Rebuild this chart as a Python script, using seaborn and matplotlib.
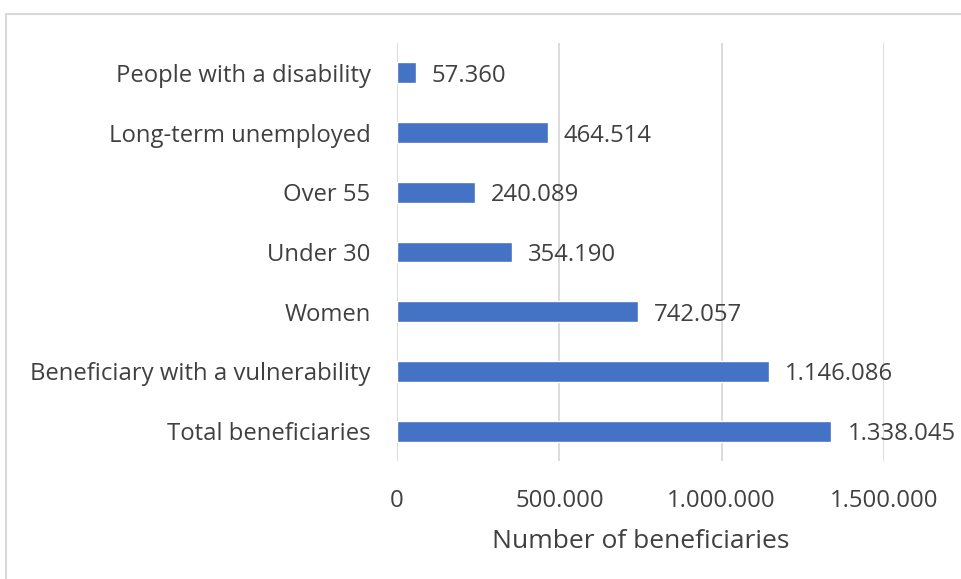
import matplotlib
matplotlib.use("Agg")
import matplotlib.pyplot as plt
from matplotlib.patches import Rectangle
from matplotlib.ticker import FuncFormatter
import seaborn as sns
import pandas as pd

categories = [
    "People with a disability",
    "Long-term unemployed",
    "Over 55",
    "Under 30",
    "Women",
    "Beneficiary with a vulnerability",
    "Total beneficiaries",
]
values = [57360, 464514, 240089, 354190, 742057, 1146086, 1338045]
x_ticks = [0, 500000, 1000000, 1500000]

df = pd.DataFrame({"group": categories, "beneficiaries": values})

sns.set_theme(style="white")
plt.rcParams["font.family"] = ["Open Sans", "DejaVu Sans"]

text_color = "#404040"
bar_color = "#4472C4"
grid_color = "#D9D9D9"
fs = 17.2


def dotted(v):
    return f"{int(v):,}".replace(",", ".")


fig = plt.figure(figsize=(9.61, 5.79), dpi=100)
ax = fig.add_axes([397 / 961, 1 - 461 / 579, (884 - 397) / 961, (461 - 43) / 579])

sns.barplot(data=df, x="beneficiaries", y="group", orient="h",
            color=bar_color, saturation=1, width=0.35, ax=ax)

ax.set_xlim(0, 1500000)
ax.set_ylim(len(categories) - 0.5, -0.5)
ax.set_xticks(x_ticks)
ax.xaxis.set_major_formatter(FuncFormatter(lambda v, p: dotted(v)))
ax.grid(axis="x", color=grid_color, linewidth=1.3)
ax.set_axisbelow(True)
for s in ax.spines.values():
    s.set_visible(False)

ax.tick_params(axis="y", length=0, pad=19, labelsize=fs, labelcolor=text_color)
ax.tick_params(axis="x", length=0, pad=20, labelsize=fs, labelcolor=text_color)
ax.set_ylabel("")
ax.set_xlabel("Number of beneficiaries", fontsize=19, color=text_color, labelpad=12)

for i, v in enumerate(values):
    ax.annotate(dotted(v), xy=(v, i), xytext=(16, -3), textcoords="offset pixels",
                ha="left", va="center", fontsize=fs, color=text_color)

# thin frame around the chart area
fig.patches.append(Rectangle((6 / 961, -0.1), 1.2, 1 - 14 / 579 + 0.1,
                             transform=fig.transFigure, fill=False,
                             edgecolor=grid_color, linewidth=1.5))

fig.savefig("out.png", dpi=100, facecolor="white")
